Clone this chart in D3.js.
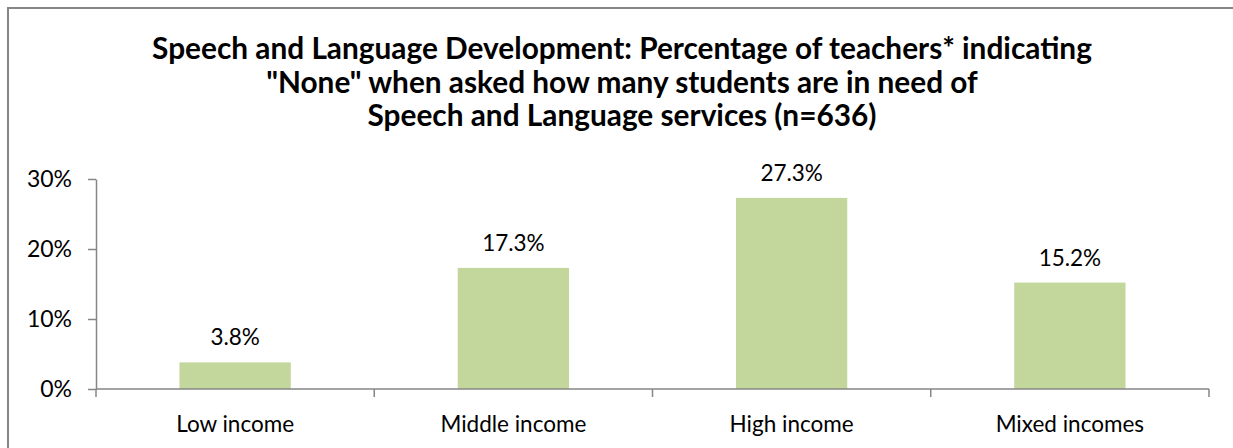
<!DOCTYPE html>
<html>
<head>
<meta charset="utf-8">
<script src="https://cdn.jsdelivr.net/npm/d3@7"></script>
<style>
  html, body { margin: 0; padding: 0; background: #fff; }
  svg { display: block; font-family: Lato, "Open Sans", sans-serif; }
</style>
</head>
<body>
<div id="chart"></div>
<script>
// Chart data.
const categories = ['Low income', 'Middle income', 'High income', 'Mixed incomes'];
const values = [0.038, 0.173, 0.273, 0.152];
const yTicks = [0, 0.1, 0.2, 0.3];
const titleLines = [
  'Speech and Language Development: Percentage of teachers* indicating',
  '"None" when asked how many students are in need of',
  'Speech and Language services (n=636)'
];

const attrs = {
  svgWidth: 1233,
  svgHeight: 448,
  plotLeft: 96,
  plotRight: 1209,
  plotTop: 179,
  plotBottom: 389,
  barFraction: 0.4,
  barColor: '#C3D69B',
  axisColor: '#868686',
  titleX: 622,
  titleY: 59,
  titleLineHeight: 33.5
};

const svg = d3.select('#chart')
  .append('svg')
  .attr('width', attrs.svgWidth)
  .attr('height', attrs.svgHeight);

// Outer frame (right and bottom edges fall outside the picture).
svg.append('rect')
  .attr('x', 8)
  .attr('y', 8)
  .attr('width', attrs.svgWidth + 20)
  .attr('height', attrs.svgHeight + 20)
  .attr('fill', 'none')
  .attr('stroke', attrs.axisColor)
  .attr('stroke-width', 2);

// Title.
svg.append('text')
  .attr('text-anchor', 'middle')
  .attr('font-weight', 'bold')
  .attr('font-size', 29.8)
  .attr('fill', '#000')
  .selectAll('tspan')
  .data(titleLines)
  .join('tspan')
  .attr('x', attrs.titleX)
  .attr('y', (d, i) => attrs.titleY + i * attrs.titleLineHeight)
  .text(d => d);

// Scales.
const xScale = d3.scaleBand()
  .domain(categories)
  .range([attrs.plotLeft, attrs.plotRight])
  .padding(0);

const yScale = d3.scaleLinear()
  .domain([0, 0.3])
  .range([attrs.plotBottom, attrs.plotTop]);

// Y axis.
const yAxis = d3.axisLeft(yScale)
  .tickValues(yTicks)
  .tickFormat(d3.format('.0%'))
  .tickSize(8)
  .tickPadding(16)
  .tickSizeOuter(0);

const yG = svg.append('g')
  .attr('transform', 'translate(' + attrs.plotLeft + ',0)')
  .call(yAxis);

yG.select('.domain').attr('stroke', attrs.axisColor).attr('stroke-width', 1.5);
yG.selectAll('.tick line').attr('stroke', attrs.axisColor).attr('stroke-width', 1.5);
yG.selectAll('.tick text')
  .attr('font-family', 'Lato, "Open Sans", sans-serif')
  .attr('font-size', 23)
  .attr('fill', '#000');

// Bars.
const barWidth = xScale.bandwidth() * attrs.barFraction;

svg.append('g')
  .selectAll('rect')
  .data(values)
  .join('rect')
  .attr('x', (d, i) => xScale(categories[i]) + (xScale.bandwidth() - barWidth) / 2)
  .attr('y', d => yScale(d))
  .attr('width', barWidth)
  .attr('height', d => yScale(0) - yScale(d))
  .attr('fill', attrs.barColor);

// Value labels.
svg.append('g')
  .selectAll('text')
  .data(values)
  .join('text')
  .attr('x', (d, i) => xScale(categories[i]) + xScale.bandwidth() / 2)
  .attr('y', d => yScale(d) - 17)
  .attr('text-anchor', 'middle')
  .attr('font-size', 22.5)
  .attr('fill', '#000')
  .text(d => d3.format('.1%')(d));

// X axis: line plus boundary ticks.
const xG = svg.append('g');

xG.append('line')
  .attr('x1', attrs.plotLeft)
  .attr('x2', attrs.plotRight)
  .attr('y1', yScale(0))
  .attr('y2', yScale(0))
  .attr('stroke', attrs.axisColor)
  .attr('stroke-width', 1.5);

const boundaries = categories.map(c => xScale(c)).concat([attrs.plotRight]);

xG.selectAll('.x-tick')
  .data(boundaries)
  .join('line')
  .attr('class', 'x-tick')
  .attr('x1', d => d)
  .attr('x2', d => d)
  .attr('y1', yScale(0))
  .attr('y2', yScale(0) + 8)
  .attr('stroke', attrs.axisColor)
  .attr('stroke-width', 1.5);

xG.selectAll('.x-label')
  .data(categories)
  .join('text')
  .attr('class', 'x-label')
  .attr('x', d => xScale(d) + xScale.bandwidth() / 2)
  .attr('y', 432)
  .attr('text-anchor', 'middle')
  .attr('font-size', 22.5)
  .attr('fill', '#000')
  .text(d => d);
</script>
</body>
</html>
